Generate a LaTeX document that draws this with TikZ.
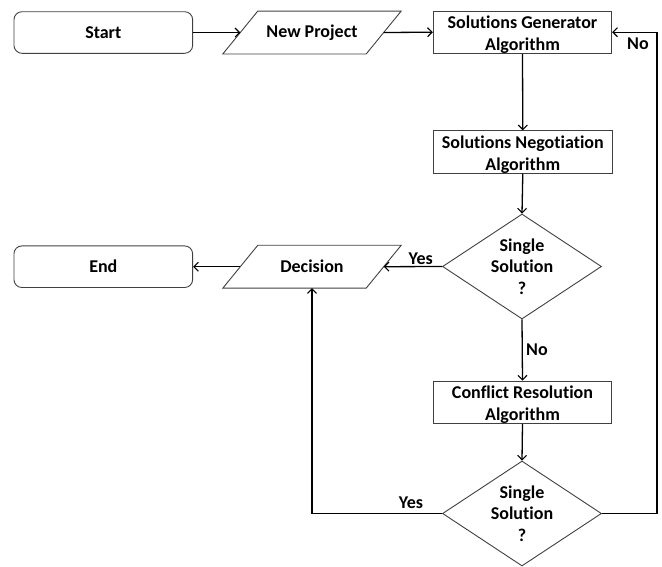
\documentclass[tikz,border=0pt]{standalone}
\usepackage{fontspec}
\setmainfont{Carlito}[Ligatures=NoCommon]
\usetikzlibrary{arrows.meta,shapes.geometric,calc}
\newcommand\myupstrut{\rule{0pt}{17.5pt}}
\begin{document}
\begin{tikzpicture}[x=1pt,y=-1pt,
  every node/.style={font=\fontsize{18}{21.6}\selectfont\bfseries},
  shapeline/.style={draw=black!75,line width=0.9pt},
  term/.style={shapeline,rounded corners=8pt,minimum width=178.7pt,minimum height=41.6pt,inner sep=0pt},
  proc/.style={shapeline,minimum width=178.5pt,minimum height=42.5pt,inner sep=0pt,align=center},
  iotext/.style={minimum width=143pt,minimum height=42.5pt,inner sep=0pt},
  decis/.style={shapeline,diamond,minimum width=159pt,minimum height=105pt,inner sep=0pt},
  dtext/.style={align=center,inner sep=0pt},
  conn/.style={line width=1.3pt,-{Straight Barb[length=4.5pt,width=9pt,line width=1.1pt]}},
  lbl/.style={inner sep=0pt}
]
\useasboundingbox (0,0) rectangle (662,566);
% nodes
\node[term] (start) at (103.3,32.5) {Start};
\node[iotext] (np) at (312,32.5) {New Project};
\draw[shapeline] ([xshift=17.5]np.north west) -- ([xshift=17.5]np.north east) -- ([xshift=-17.5]np.south east) -- ([xshift=-17.5]np.south west) -- cycle;
\node[proc] (gen) at (522.5,32.2) {\myupstrut Solutions Generator\\Algorithm};
\node[proc] (neg) at (522.8,152) {\myupstrut Solutions Negotiation\\Algorithm};
\node[decis] (d1) at (522,266.5) {};
\node[dtext] (d1t) at (d1) {Single\\Solution\\?};
\node[iotext] (dec) at (312,266.7) {Decision};
\draw[shapeline] ([xshift=17.5]dec.north west) -- ([xshift=17.5]dec.north east) -- ([xshift=-17.5]dec.south east) -- ([xshift=-17.5]dec.south west) -- cycle;
\node[term] (end) at (103.3,266.7) {End};
\node[proc] (cr) at (522.5,402.3) {\myupstrut Conflict Resolution\\Algorithm};
\node[decis] (d2) at (522,513.5) {};
\node[dtext] (d2t) at (d2) {Single\\Solution\\?};
\coordinate (rx) at (657,0);
% connectors
\draw[conn] (start.east) -- (np.west);
\draw[conn] (np.east) -- (gen.west);
\draw[conn] (gen.south) -- (neg.north);
\draw[conn] (neg.south) -- (d1.north);
\draw[conn] (d1.west) -- (dec.east);
\draw[conn] (dec.west) -- (end.east);
\draw[conn] (d1.south) -- (cr.north);
\draw[conn] (cr.south) -- (d2.north);
\draw[conn] (d2.west) -| (dec.south);
\draw[conn] (d2.east) -- (d2.east -| rx) |- (gen.east);
% labels
\node[lbl] (yes1) at (420.7,259) {Yes};
\node[lbl] (no1) at (537,350) {No};
\node[lbl] (yes2) at (411,502.5) {Yes};
\node[lbl] (no2) at (638,43.3) {No};
\end{tikzpicture}
\end{document}
